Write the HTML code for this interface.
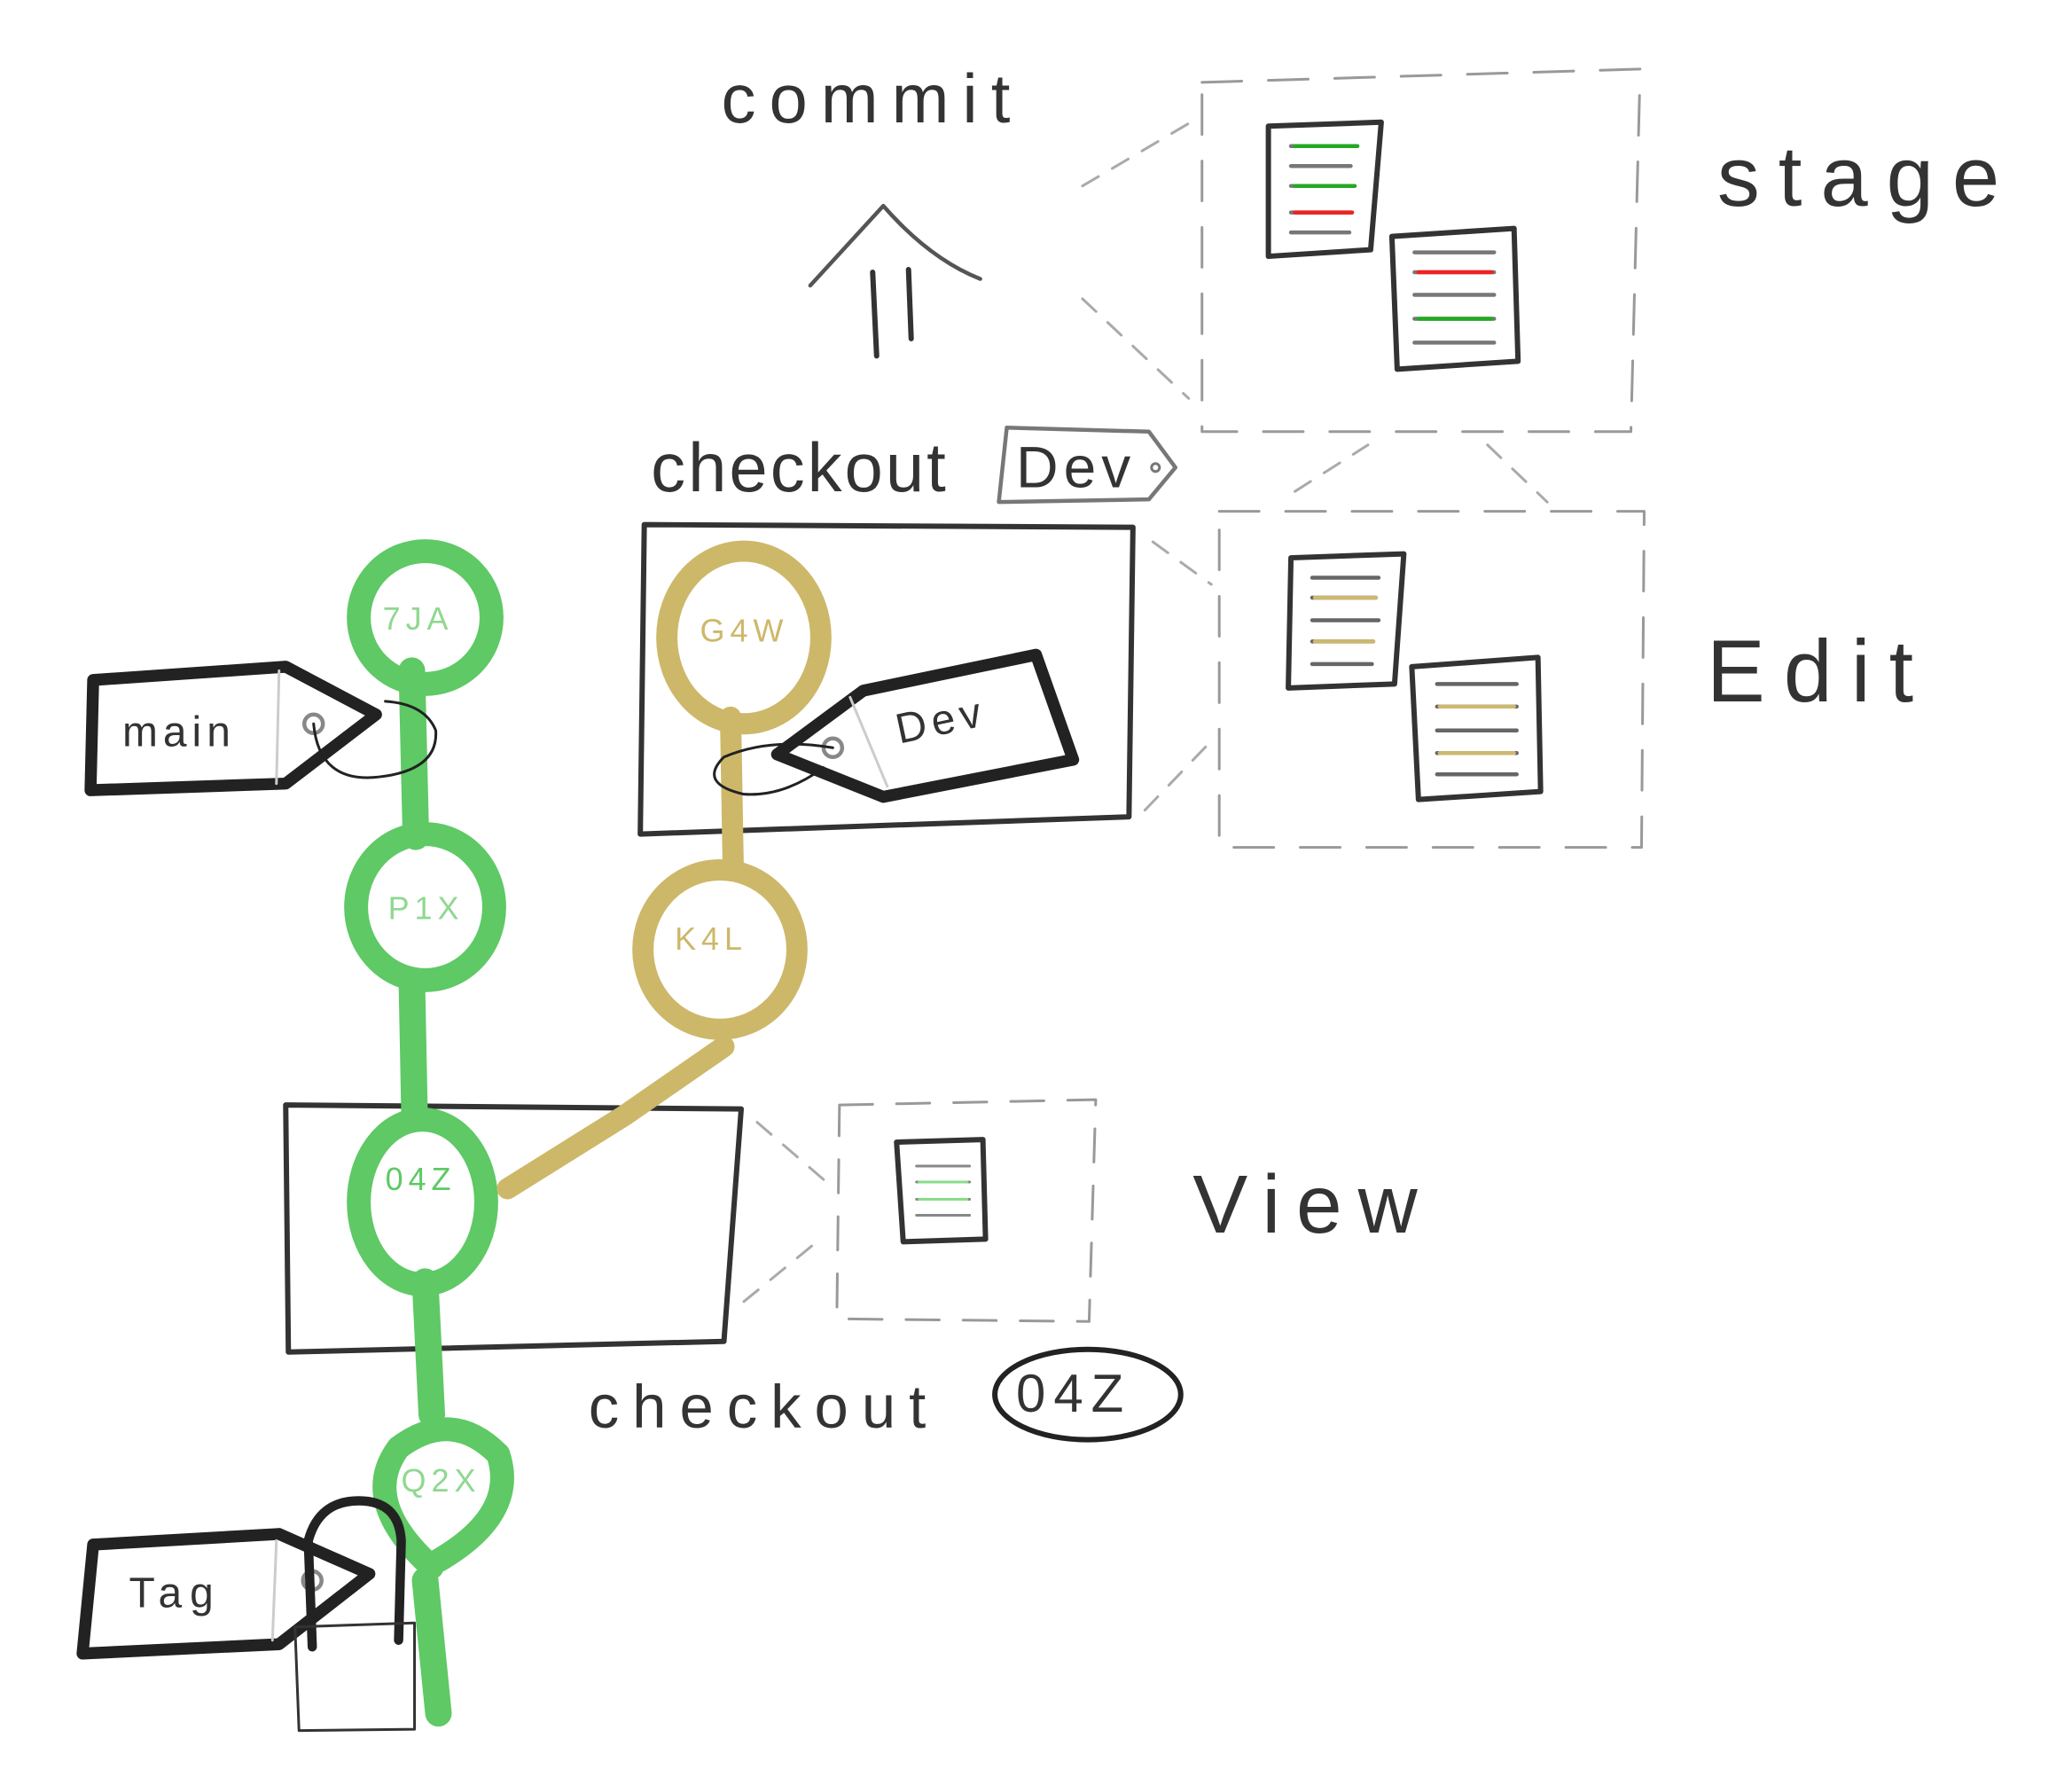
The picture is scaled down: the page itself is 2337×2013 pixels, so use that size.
<!DOCTYPE html>
<html><head><meta charset="utf-8"><style>
html,body{margin:0;padding:0;background:#fff}
svg{display:block}
text{font-family:"Liberation Sans",sans-serif}
</style></head><body>
<svg width="2337" height="2013" viewBox="0 0 1560 1344" xmlns="http://www.w3.org/2000/svg">
<rect width="1560" height="1344" fill="#fff"/>
<g fill="none" stroke-linecap="round" stroke-linejoin="round">
<!-- commit arrow -->
<path d="M610 215 L665 155 Q700 195 738 210" stroke="#555" stroke-width="3"/>
<path d="M657 205 L660 268 M684 203 L686 255" stroke="#333" stroke-width="4"/>
<!-- stage dashed box -->
<path d="M905 62 L1235 52 L1228 325 L905 325 Z" stroke="#999" stroke-width="2" stroke-dasharray="30 20"/>
<path d="M815 140 L900 90 M815 225 L895 300" stroke="#aaa" stroke-width="2" stroke-dasharray="14 12"/>
<!-- stage docs -->
<path d="M955 95 L1040 92 L1032 188 L955 193 Z" stroke="#333" stroke-width="4" fill="#fff"/>
<path d="M972 110h50M972 125h45M972 140h48M972 160h46M972 175h44" stroke="#777" stroke-width="3"/>
<path d="M975 110h47M975 140h45" stroke="#2a2" stroke-width="3"/>
<path d="M975 160h43" stroke="#e22" stroke-width="3"/>
<path d="M1048 178 L1140 172 L1143 272 L1052 278 Z" stroke="#333" stroke-width="4" fill="#fff"/>
<path d="M1065 190h60M1065 205h60M1065 222h60M1065 240h60M1065 258h60" stroke="#777" stroke-width="3"/>
<path d="M1068 205h55" stroke="#e22" stroke-width="3"/>
<path d="M1068 240h55" stroke="#2a2" stroke-width="3"/>
<!-- edit dashed box -->
<path d="M918 385 L1238 385 L1236 638 L918 638 Z" stroke="#999" stroke-width="2" stroke-dasharray="30 20"/>
<path d="M868 408 L912 440 M862 610 L910 560 M975 370 L1030 335 M1120 335 L1165 378" stroke="#aaa" stroke-width="2" stroke-dasharray="14 12"/>
<path d="M972 420 L1057 417 L1050 515 L970 518 Z" stroke="#333" stroke-width="4" fill="#fff"/>
<path d="M988 435h50M988 450h48M988 467h50M988 483h46M988 500h45" stroke="#666" stroke-width="3"/>
<path d="M990 450h46M990 483h44" stroke="#cdb870" stroke-width="3"/>
<path d="M1063 502 L1158 495 L1160 596 L1068 602 Z" stroke="#333" stroke-width="4" fill="#fff"/>
<path d="M1082 515h60M1082 532h60M1082 550h60M1082 567h60M1082 583h60" stroke="#666" stroke-width="3"/>
<path d="M1084 532h56M1084 567h56" stroke="#cdb870" stroke-width="3"/>
<!-- view dashed box -->
<path d="M632 832 L825 828 L820 995 L630 993 Z" stroke="#999" stroke-width="2" stroke-dasharray="25 18"/>
<path d="M570 845 L628 895 M560 980 L615 935" stroke="#aaa" stroke-width="2" stroke-dasharray="14 12"/>
<path d="M675 860 L740 858 L742 933 L680 935 Z" stroke="#333" stroke-width="4" fill="#fff"/>
<path d="M690 878h40M690 890h40M690 903h40M690 915h40" stroke="#888" stroke-width="2"/>
<path d="M692 890h36M692 903h36" stroke="#8d8" stroke-width="2"/>
<!-- boxes -->
<path d="M485 395 L853 397 L850 615 L482 628 Z" stroke="#333" stroke-width="4"/>
<path d="M215 832 L558 835 L545 1010 L217 1018 Z" stroke="#333" stroke-width="4"/>
<!-- green line -->
<path d="M310 505 L313 630 M310 740 L312 840 M320 965 L325 1065 M320 1190 L330 1290" stroke="#5ec965" stroke-width="20"/>
<!-- green circles -->
<circle cx="320" cy="465" r="50" stroke="#5ec965" stroke-width="18"/>
<ellipse cx="320" cy="683" rx="52" ry="55" stroke="#5ec965" stroke-width="18"/>
<ellipse cx="318" cy="905" rx="48" ry="62" stroke="#5ec965" stroke-width="18"/>
<path d="M325 1180 Q270 1130 300 1090 Q340 1060 375 1095 Q390 1140 330 1175" stroke="#5ec965" stroke-width="18"/>
<!-- tan -->
<path d="M550 540 L552 655 M545 788 L470 840 L382 895" stroke="#cdb86a" stroke-width="16"/>
<ellipse cx="560" cy="480" rx="58" ry="65" stroke="#cdb86a" stroke-width="16"/>
<ellipse cx="542" cy="715" rx="58" ry="60" stroke="#cdb86a" stroke-width="16"/>
<!-- main tag -->
<path d="M70 512 L215 502 L283 538 L215 590 L68 595 Z" stroke="#222" stroke-width="9" fill="#fff"/>
<path d="M210 505 L208 590" stroke="#ccc" stroke-width="2"/>
<circle cx="236" cy="545" r="7" stroke="#888" stroke-width="3"/>
<path d="M236 545 Q240 590 285 585 Q330 580 328 550 Q320 530 290 528" stroke="#222" stroke-width="2"/>
<!-- dev tag -->
<path d="M585 568 L650 520 L780 493 L808 572 L665 600 Z" stroke="#222" stroke-width="9" fill="#fff"/>
<path d="M640 525 L668 592" stroke="#ccc" stroke-width="2"/>
<circle cx="627" cy="563" r="7" stroke="#888" stroke-width="3"/>
<path d="M627 563 Q580 555 545 570 Q525 590 560 598 Q590 600 620 578" stroke="#222" stroke-width="2"/>
<!-- tag tag -->
<path d="M70 1163 L210 1155 L278 1185 L210 1238 L62 1245 Z" stroke="#222" stroke-width="9" fill="#fff"/>
<path d="M208 1160 L205 1235" stroke="#ccc" stroke-width="2"/>
<circle cx="235" cy="1190" r="7" stroke="#888" stroke-width="3"/>
<path d="M235 1240 L232 1160 Q240 1130 270 1130 Q300 1130 302 1160 L300 1235" stroke="#222" stroke-width="7"/>
<path d="M222 1225 L312 1222 L312 1302 L225 1303 Z" stroke="#333" stroke-width="2"/>
<!-- Dev label tag near checkout -->
<path d="M758 322 L865 325 L885 352 L865 376 L752 378 Z" stroke="#777" stroke-width="3"/>
<circle cx="870" cy="352" r="3" stroke="#777" stroke-width="2"/>
<!-- 04Z ellipse -->
<ellipse cx="819" cy="1050" rx="70" ry="34" stroke="#222" stroke-width="4"/>
</g>
<g fill="#333">
<text x="543" y="92" font-size="52" letter-spacing="10">commit</text>
<text x="1293" y="155" font-size="64" letter-spacing="14">stage</text>
<text x="490" y="370" font-size="52" letter-spacing="2">checkout</text>
<text x="765" y="367" font-size="44" letter-spacing="4">Dev</text>
<text x="1285" y="528" font-size="66" letter-spacing="14">Edit</text>
<text x="898" y="928" font-size="62" letter-spacing="12">View</text>
<text x="443" y="1075" font-size="46" letter-spacing="10">checkout</text>
<text x="765" y="1063" font-size="40" letter-spacing="6">04Z</text>
<text x="92" y="562" font-size="32" letter-spacing="4">main</text>
<text x="677" y="560" font-size="32" letter-spacing="4" transform="rotate(-12 677 560)">Dev</text>
<text x="97" y="1210" font-size="32" letter-spacing="6">Tag</text>
</g>
<g font-size="24" letter-spacing="4">
<text x="288" y="474" fill="#8fd890">7JA</text>
<text x="292" y="692" fill="#8fd890">P1X</text>
<text x="290" y="896" fill="#5ec965">04Z</text>
<text x="302" y="1123" fill="#8fd890">Q2X</text>
<text x="527" y="483" fill="#cdb86a">G4W</text>
<text x="508" y="715" fill="#cdb86a">K4L</text>
</g>
</svg>
</body></html>
